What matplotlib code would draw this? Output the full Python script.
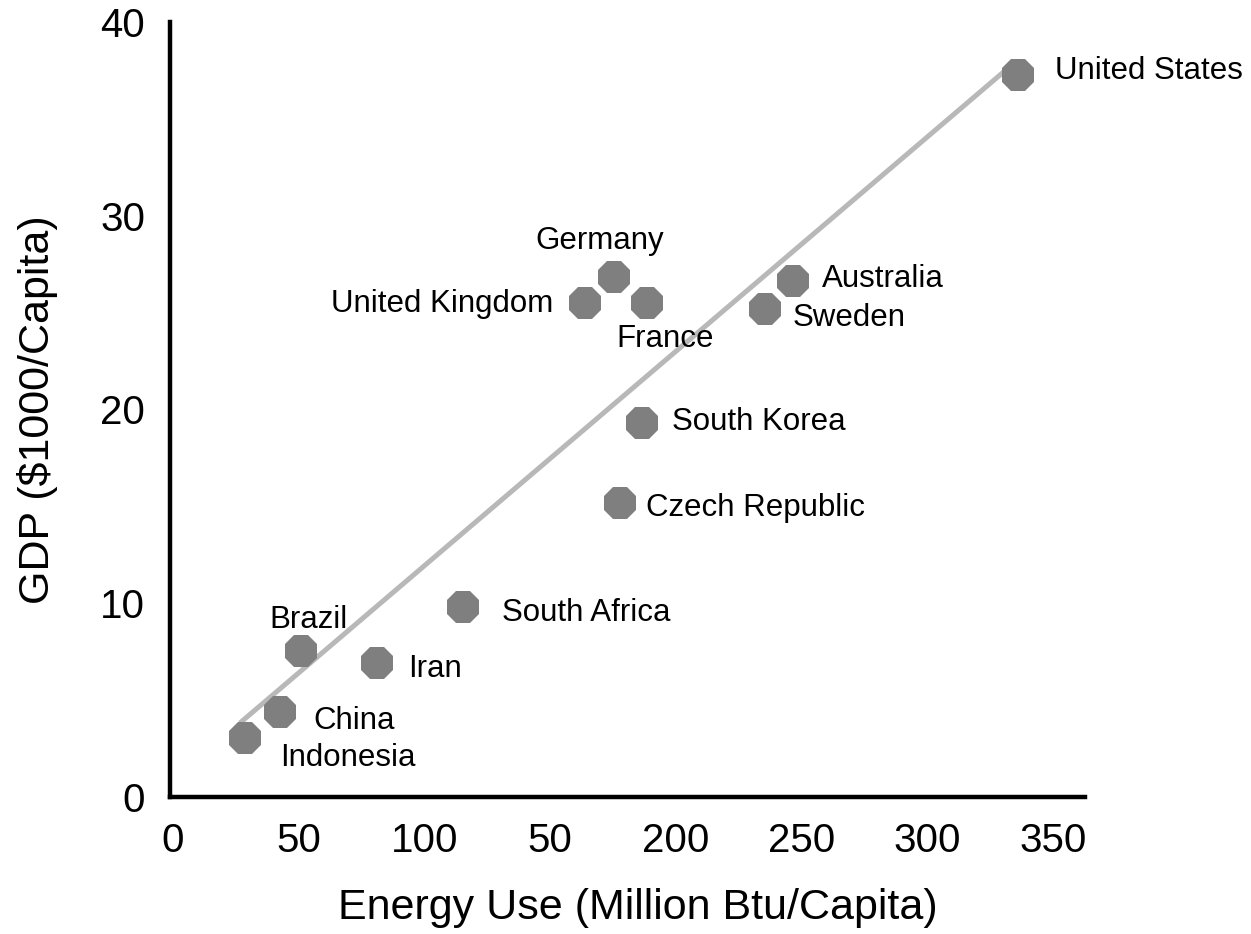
import matplotlib
matplotlib.use("Agg")
import matplotlib.pyplot as plt

plt.rcParams['font.family'] = ['Liberation Sans', 'DejaVu Sans']

# Energy use (million Btu per capita) vs GDP ($1000 per capita)
countries = ["Indonesia", "China", "Brazil", "Iran", "South Africa",
             "Czech Republic", "South Korea", "United Kingdom", "Germany",
             "France", "Sweden", "Australia", "United States"]
energy_use = [28.6, 42.5, 51.0, 81.1, 115.3, 177.7, 186.5, 163.8, 175.4,
              188.5, 235.4, 246.5, 336.0]
gdp = [3.05, 4.39, 7.54, 6.92, 9.81, 15.17, 19.30, 25.50, 26.84,
       25.50, 25.19, 26.63, 37.26]

# Trend line end points
trend_x = [26.6, 332.1]
trend_y = [3.82, 37.63]

x_ticks = [0, 50, 100, 150, 200, 250, 300, 350]
x_tick_labels = ["0", "50", "100", "50", "200", "250", "300", "350"]
y_ticks = [0, 10, 20, 30, 40]
y_tick_labels = ["0", "10", "20", "30", "40"]

# label placement: (dx, dy) in pixels, horizontal alignment
label_pos = {
    "United States": (37, 4, "left"),
    "Germany": (-14, 36, "center"),
    "United Kingdom": (-32, -1, "right"),
    "France": (18, -36, "center"),
    "Australia": (29, 2, "left"),
    "Sweden": (28, -9, "left"),
    "South Korea": (30, 1, "left"),
    "Czech Republic": (26, -5, "left"),
    "South Africa": (39, -6, "left"),
    "Brazil": (7, 31, "center"),
    "Iran": (31, -6, "left"),
    "China": (33, -9, "left"),
    "Indonesia": (35, -20, "left"),
}

fig = plt.figure(figsize=(12.51, 9.34), dpi=100)
ax = fig.add_axes([170 / 1251, 1 - 797 / 934, (1085 - 170) / 1251, (797 - 22) / 934])

ax.plot(trend_x, trend_y, color="#b8b8b8", linewidth=3.6, solid_capstyle="butt", zorder=2)
ax.plot(energy_use, gdp, linestyle="none", marker="8", markersize=25.5,
        color="#7f7f7f", markeredgewidth=0, zorder=3)

for name, x, y in zip(countries, energy_use, gdp):
    dx, dy, ha = label_pos[name]
    ax.annotate(name, (x, y), xytext=(dx, dy), textcoords="offset pixels",
                ha=ha, va="center", fontsize=22.5, color="black")

ax.set_xlim(-1.2, 362.6)
ax.set_ylim(0, 40)
ax.set_xticks(x_ticks)
ax.set_xticklabels(x_tick_labels)
ax.set_yticks(y_ticks)
ax.set_yticklabels(y_tick_labels)
ax.tick_params(axis="both", length=0, labelsize=29)
ax.tick_params(axis="x", pad=18)
ax.tick_params(axis="y", pad=18)

for side in ("top", "right"):
    ax.spines[side].set_visible(False)
for side in ("left", "bottom"):
    ax.spines[side].set_linewidth(3.2)
    ax.spines[side].set_color("black")

ax.set_xlabel("Energy Use (Million Btu/Capita)", fontsize=31)
ax.set_ylabel("GDP ($1000/Capita)", fontsize=31, labelpad=30)
ax.xaxis.set_label_coords((638 - 170) / (1085 - 170), -(888 - 797) / (797 - 22))

fig.savefig("out.png", dpi=100)
